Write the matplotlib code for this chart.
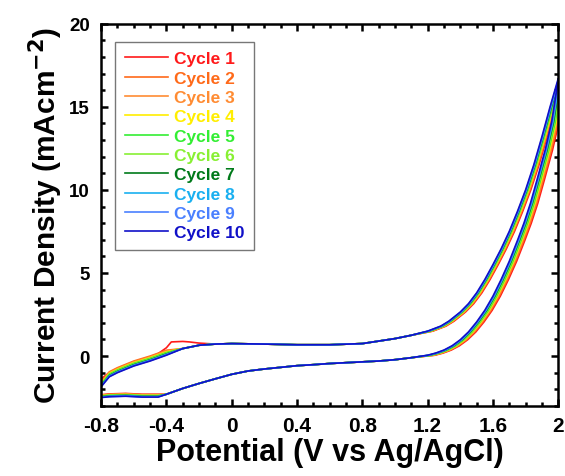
import matplotlib
matplotlib.use("Agg")
import matplotlib.pyplot as plt
from matplotlib.ticker import MultipleLocator
import numpy as np

# ---------------- data ----------------
cycles = ["Cycle 1", "Cycle 2", "Cycle 3", "Cycle 4", "Cycle 5",
          "Cycle 6", "Cycle 7", "Cycle 8", "Cycle 9", "Cycle 10"]
colors = ["#FF1A1A", "#FF6A1A", "#FF8C33", "#FFEE00", "#33EE33",
          "#88F033", "#007A1A", "#1AB0F0", "#4A80FF", "#1010C8"]

# anodic (upper) branch of cycle 10
up_V = [-0.8, -0.75, -0.7, -0.6, -0.5, -0.4, -0.3, -0.2, -0.1, 0.0, 0.2, 0.4,
        0.6, 0.8, 0.9, 1.0, 1.1, 1.2, 1.28, 1.33, 1.4, 1.45, 1.5, 1.55, 1.6,
        1.65, 1.7, 1.75, 1.8, 1.85, 1.9, 1.95, 2.0]
up_I = [-1.85, -1.25, -1.0, -0.6, -0.3, 0.05, 0.45, 0.65, 0.72, 0.75, 0.72,
        0.68, 0.68, 0.75, 0.9, 1.05, 1.25, 1.5, 1.8, 2.1, 2.65, 3.15, 3.8,
        4.6, 5.5, 6.45, 7.5, 8.7, 10.0, 11.5, 13.2, 15.0, 16.7]

# cathodic (lower) branch of cycle 10
dn_V = [2.0, 1.96, 1.92, 1.87, 1.83, 1.79, 1.75, 1.7, 1.65, 1.6, 1.55, 1.5,
        1.45, 1.4, 1.35, 1.3, 1.25, 1.2, 1.1, 1.0, 0.9, 0.8, 0.7, 0.6, 0.5,
        0.4, 0.3, 0.2, 0.1, 0.0, -0.1, -0.2, -0.3, -0.4, -0.45, -0.55, -0.65,
        -0.75, -0.8]
dn_I = [16.6, 14.1, 12.4, 10.6, 9.2, 8.0, 6.95, 5.7, 4.6, 3.6, 2.75, 2.05,
        1.45, 0.98, 0.62, 0.36, 0.18, 0.05, -0.1, -0.22, -0.3, -0.35, -0.4,
        -0.45, -0.52, -0.58, -0.68, -0.78, -0.9, -1.1, -1.37, -1.65, -1.95,
        -2.3, -2.47, -2.47, -2.42, -2.45, -2.5]

# cycle 1 low-potential anodic segment (with the small oxidation bump)
c1_low_V = [-0.8, -0.75, -0.7, -0.6, -0.5, -0.45, -0.4, -0.37, -0.3, -0.26, -0.2]
c1_low_I = [-1.37, -1.0, -0.85, -0.45, -0.1, 0.15, 0.5, 0.85, 0.88, 0.85, 0.78]

# per-cycle potential shift of the steep OER region (V)
shift_up = [0.032, 0.027, 0.023, 0.019, 0.015, 0.012, 0.009, 0.006, 0.003, 0.0]
shift_dn = [0.045, 0.038, 0.032, 0.027, 0.022, 0.017, 0.012, 0.008, 0.004, 0.0]
# per-cycle current offset at low potential (mA cm-2)
off_up_low = [0.0, 0.3, 0.25, 0.2, 0.16, 0.12, 0.08, 0.05, 0.02, 0.0]
off_dn_low = [0.17, 0.15, 0.13, 0.11, 0.09, 0.07, 0.05, 0.03, 0.01, 0.0]

xticks = [-0.8, -0.4, 0, 0.4, 0.8, 1.2, 1.6, 2]
xtick_labels = ["-0.8", "-0.4", "0", "0.4", "0.8", "1.2", "1.6", "2"]
yticks = [0, 5, 10, 15, 20]

# ---------------- figure ----------------
plt.rcParams['font.family'] = ['Liberation Sans', 'DejaVu Sans']
plt.rcParams['font.weight'] = 'bold'
plt.rcParams['mathtext.default'] = 'regular'
plt.rcParams['axes.unicode_minus'] = False

fig = plt.figure(figsize=(5.65, 4.77), dpi=100)
ax = fig.add_axes([0.179, 0.147, 0.809, 0.801])

uV = np.array(up_V); uI = np.array(up_I)
dV = np.array(dn_V); dI = np.array(dn_I)

for k in range(10):
    V1 = uV + np.where(uV >= 1.15, shift_up[k], 0.0)
    I1 = uI + np.where(uV <= -0.4, off_up_low[k], 0.0)
    if k == 0:
        mask = uV > c1_low_V[-1]
        V1 = np.concatenate([c1_low_V, V1[mask]])
        I1 = np.concatenate([c1_low_I, I1[mask]])
        # small dip of cycle 1 on the plateau
        I1 = np.where((V1 > 0.42) & (V1 < 0.58), I1 - 0.12, I1)
    V2 = dV + np.where(dV >= 1.15, shift_dn[k], 0.0)
    I2 = dI + np.where(dV <= -0.45, off_dn_low[k], 0.0)
    V = np.concatenate([V1, V2])
    I = np.concatenate([I1, I2])
    ax.plot(V, I, color=colors[k], lw=1.2, label=cycles[k])

ax.set_xlim(-0.8, 2.0)
ax.set_ylim(-3, 20)
ax.set_xticks(xticks)
ax.set_xticklabels(xtick_labels)
ax.set_yticks(yticks)
ax.xaxis.set_minor_locator(MultipleLocator(0.1))
ax.yaxis.set_minor_locator(MultipleLocator(1))
ax.tick_params(which='both', direction='in', top=True, right=True, width=1.8)
ax.tick_params(which='major', length=5, pad=6)
ax.tick_params(which='minor', length=3)
ax.tick_params(axis='x', which='major', labelsize=15, pad=7)
ax.tick_params(axis='y', which='major', labelsize=13.5, pad=8)
for lab in ax.get_xticklabels() + ax.get_yticklabels():
    lab.set_fontweight('bold')
for s in ax.spines.values():
    s.set_linewidth(1.8)

ax.set_xlabel("Potential (V vs Ag/AgCl)", fontsize=22, fontweight='bold', labelpad=2)
ax.set_ylabel("Current Density (mAcm$^{\\mathbf{-2}}$)", fontsize=21.5,
              fontweight='bold', labelpad=4)

leg = ax.legend(loc='upper left', bbox_to_anchor=(0.031, 0.953),
                labelcolor='linecolor', fancybox=False, edgecolor='#555555',
                handlelength=2.5, handletextpad=0.35, labelspacing=0.24,
                borderpad=0.55, borderaxespad=0.0,
                prop={'weight': 'bold', 'size': 12.5})
leg.get_frame().set_linewidth(1.0)

fig.savefig("out.png", dpi=100)
